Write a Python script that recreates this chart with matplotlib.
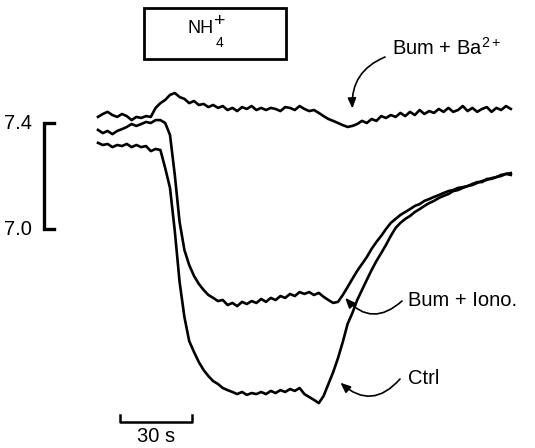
import numpy as np
import matplotlib
matplotlib.use("Agg")
import matplotlib.pyplot as plt
from matplotlib.patches import Rectangle
from matplotlib.transforms import blended_transform_factory

plt.rcParams["font.family"] = ["Liberation Sans", "DejaVu Sans"]
plt.rcParams["mathtext.default"] = "regular"

# sampling time of the recordings (s)
time_s = np.arange(0, 174, 2)

# intracellular pH, bumetanide + Ba2+
ph_bum_ba = [
    7.423, 7.434, 7.442, 7.430, 7.423, 7.434, 7.426, 7.411, 7.423, 7.419,
    7.426, 7.423, 7.457, 7.475, 7.487, 7.506, 7.513, 7.498, 7.491, 7.475,
    7.483, 7.468, 7.472, 7.460, 7.468, 7.457, 7.464, 7.449, 7.457, 7.445,
    7.460, 7.453, 7.464, 7.449, 7.457, 7.449, 7.457, 7.453, 7.445, 7.460,
    7.457, 7.449, 7.464, 7.453, 7.445, 7.449, 7.438, 7.426, 7.415, 7.408,
    7.400, 7.392, 7.385, 7.389, 7.396, 7.408, 7.400, 7.415, 7.408, 7.426,
    7.419, 7.430, 7.423, 7.438, 7.426, 7.442, 7.430, 7.449, 7.434, 7.445,
    7.438, 7.453, 7.442, 7.457, 7.442, 7.449, 7.464, 7.445, 7.457, 7.442,
    7.453, 7.460, 7.442, 7.457, 7.449, 7.464, 7.453,
]

# intracellular pH, bumetanide + ionomycin
ph_bum_iono = [
    7.374, 7.362, 7.370, 7.358, 7.370, 7.377, 7.385, 7.396, 7.389, 7.396,
    7.404, 7.400, 7.411, 7.411, 7.400, 7.355, 7.204, 7.026, 6.921, 6.864,
    6.823, 6.793, 6.770, 6.751, 6.740, 6.728, 6.732, 6.713, 6.721, 6.709,
    6.725, 6.717, 6.728, 6.721, 6.736, 6.725, 6.740, 6.732, 6.747, 6.740,
    6.755, 6.747, 6.762, 6.755, 6.762, 6.751, 6.759, 6.744, 6.732, 6.721,
    6.725, 6.751, 6.781, 6.812, 6.842, 6.868, 6.894, 6.925, 6.951, 6.974,
    7.000, 7.023, 7.038, 7.053, 7.064, 7.075, 7.087, 7.094, 7.106, 7.113,
    7.121, 7.128, 7.136, 7.143, 7.147, 7.155, 7.158, 7.162, 7.170, 7.177,
    7.177, 7.189, 7.189, 7.196, 7.200, 7.208, 7.204,
]

# intracellular pH, control
ph_ctrl = [
    7.325, 7.317, 7.321, 7.309, 7.317, 7.313, 7.321, 7.309, 7.317, 7.309,
    7.313, 7.294, 7.302, 7.298, 7.230, 7.155, 6.992, 6.800, 6.668, 6.577,
    6.536, 6.498, 6.468, 6.445, 6.426, 6.415, 6.400, 6.392, 6.385, 6.377,
    6.385, 6.374, 6.381, 6.377, 6.385, 6.377, 6.389, 6.381, 6.392, 6.385,
    6.396, 6.389, 6.400, 6.377, 6.366, 6.355, 6.343, 6.370, 6.415, 6.460,
    6.513, 6.574, 6.642, 6.683, 6.732, 6.770, 6.808, 6.845, 6.879, 6.909,
    6.940, 6.974, 7.004, 7.023, 7.038, 7.049, 7.064, 7.075, 7.087, 7.098,
    7.106, 7.117, 7.125, 7.132, 7.143, 7.147, 7.155, 7.162, 7.166, 7.174,
    7.181, 7.185, 7.192, 7.196, 7.204, 7.208, 7.211,
]

ph_scale = [7.0, 7.4]
ph_scale_labels = ["7.0", "7.4"]
time_bar = [9, 39]
time_bar_label = "30 s"

FS = 14.5

fig = plt.figure(figsize=(5.35, 4.48), dpi=100)
ax = fig.add_axes([0, 0, 1, 1])
ax.set_xlim(-98 / 2.4, 437 / 2.4)
ax.set_ylim(7.4 - 325 / 265, 7.4 + 123 / 265)
ax.axis("off")

for trace in (ph_bum_ba, ph_bum_iono, ph_ctrl):
    ax.plot(time_s, trace, color="black", lw=1.9, solid_joinstyle="round")

# pH calibration bracket
bx = blended_transform_factory(ax.transAxes, ax.transData)
x0, x1 = 44 / 535, 54 / 535
ax.plot([x1, x0, x0, x1], [ph_scale[1], ph_scale[1], ph_scale[0], ph_scale[0]],
        color="black", lw=2.4, transform=bx, solid_joinstyle="miter")
for val, lab in zip(ph_scale, ph_scale_labels):
    ax.text(32 / 535, val, lab, transform=bx, ha="right", va="center",
            fontsize=FS)

# time scale bar
by = blended_transform_factory(ax.transData, ax.transAxes)
ax.plot([time_bar[0], time_bar[0], time_bar[1], time_bar[1]],
        [1 - 415 / 448, 1 - 422 / 448, 1 - 422 / 448, 1 - 415 / 448],
        color="black", lw=1.8, transform=by)
ax.text(np.mean(time_bar), 1 - 436 / 448, time_bar_label, transform=by,
        ha="center", va="center", fontsize=FS)

# NH4+ application box
ax.add_patch(Rectangle((144 / 535, 1 - 59 / 448), 142 / 535, 51 / 448,
                       transform=ax.transAxes, fill=False, lw=2,
                       edgecolor="black"))
ax.text(214 / 535, 1 - 33 / 448, "NH", transform=ax.transAxes,
        ha="right", va="baseline", fontsize=13)
ax.text(216 / 535, 1 - 47 / 448, "4", transform=ax.transAxes,
        ha="left", va="baseline", fontsize=10)
ax.text(214 / 535, 1 - 26 / 448, "+", transform=ax.transAxes,
        ha="left", va="baseline", fontsize=14)

arrow = dict(arrowstyle="-|>,head_length=0.6,head_width=0.25", color="black",
             lw=1.2, shrinkA=0, shrinkB=0)

# labels with curved leaders
ax.text(392 / 535, 1 - 55 / 448, r"Bum + Ba$^{2+}$", transform=ax.transAxes,
        ha="left", va="baseline", fontsize=FS)
ax.annotate("", xy=(106, 7.455), xytext=(385 / 535, 1 - 57 / 448),
            textcoords="axes fraction",
            arrowprops=dict(arrow, connectionstyle="arc3,rad=0.35"))

ax.text(408 / 535, 1 - 301 / 448, "Bum + Iono.", transform=ax.transAxes,
        ha="left", va="center", fontsize=FS)
ax.annotate("", xy=(103, 6.74), xytext=(402 / 535, 1 - 301 / 448),
            textcoords="axes fraction",
            arrowprops=dict(arrow, connectionstyle="arc3,rad=-0.5"))

ax.text(408 / 535, 1 - 378 / 448, "Ctrl", transform=ax.transAxes,
        ha="left", va="center", fontsize=FS)
ax.annotate("", xy=(101, 6.42), xytext=(400 / 535, 1 - 379 / 448),
            textcoords="axes fraction",
            arrowprops=dict(arrow, connectionstyle="arc3,rad=-0.5"))

fig.savefig("out.png", dpi=100, facecolor="white")
